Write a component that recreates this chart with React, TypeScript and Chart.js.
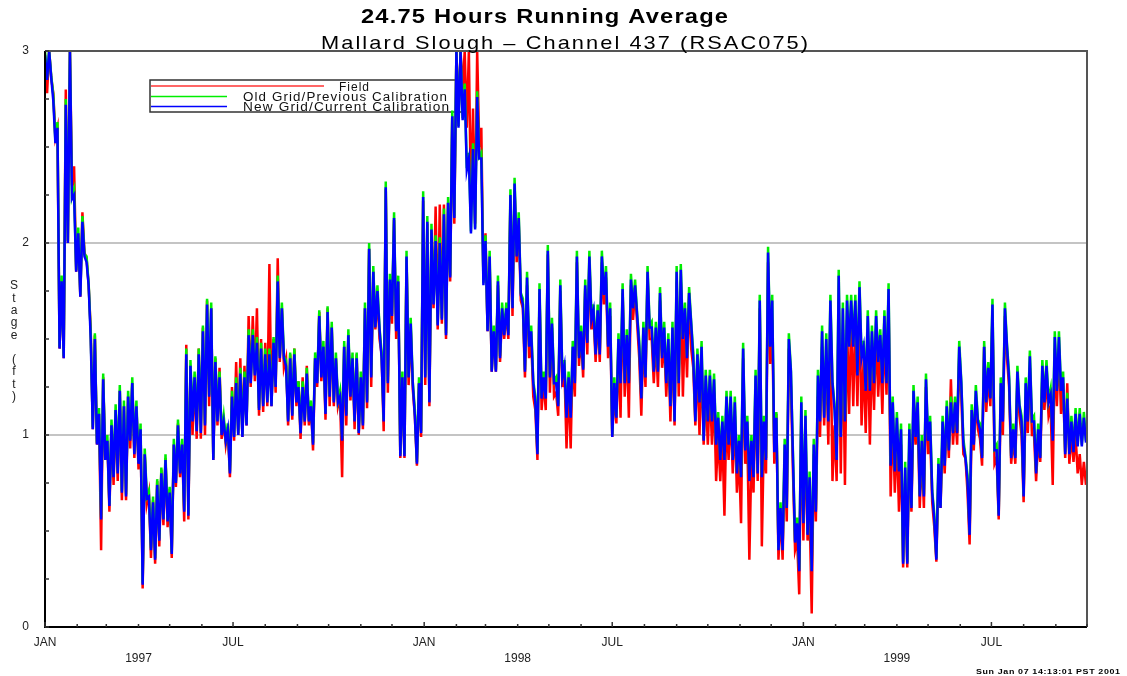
import React, { useEffect, useRef } from "react";
import { Chart, registerables } from "chart.js";

Chart.register(...registerables);

// Samples every 2 days starting 1 Jan 1997 (day 0)
const SAMPLE_STEP_DAYS = 2;
const X_MAX_DAY = 1003; // 1 Oct 1999

const newGrid: number[] = [
  2.98, 2.85, 3.0, 2.86, 2.74, 2.52, 2.6, 1.45, 1.8, 1.4,
  2.72, 2.0, 3.0, 2.23, 2.25, 1.85, 2.05, 1.72, 2.11, 1.93,
  1.9, 1.78, 1.5, 1.03, 1.5, 0.95, 1.11, 0.56, 1.29, 0.87,
  0.97, 0.63, 1.05, 0.78, 1.13, 0.8, 1.23, 0.7, 1.15, 0.68,
  1.2, 0.97, 1.27, 0.9, 1.15, 0.85, 1.03, 0.22, 0.9, 0.67,
  0.68, 0.4, 0.65, 0.35, 0.74, 0.45, 0.8, 0.56, 0.87, 0.55,
  0.7, 0.38, 0.95, 0.75, 1.05, 0.8, 0.95, 0.6, 1.42, 0.58,
  1.36, 1.07, 1.3, 1.02, 1.42, 1.01, 1.54, 1.05, 1.68, 1.2,
  1.66, 0.87, 1.38, 1.07, 1.3, 1.0, 1.07, 0.97, 1.03, 0.8,
  1.2, 0.99, 1.27, 1.0, 1.32, 0.99, 1.3, 1.05, 1.52, 1.27,
  1.52, 1.31, 1.48, 1.13, 1.45, 1.15, 1.42, 1.17, 1.42, 1.15,
  1.48, 1.25, 1.8, 1.4, 1.66, 1.4, 1.36, 1.07, 1.4, 1.1,
  1.42, 1.17, 1.25, 1.01, 1.25, 1.07, 1.32, 1.07, 1.15, 0.95,
  1.4, 1.27, 1.62, 1.3, 1.46, 1.11, 1.64, 1.2, 1.56, 1.17,
  1.4, 1.17, 1.2, 0.97, 1.46, 1.1, 1.52, 1.2, 1.4, 1.07,
  1.4, 1.01, 1.3, 1.05, 1.66, 1.17, 1.97, 1.3, 1.85, 1.56,
  1.75, 1.55, 1.4, 1.07, 2.29, 1.27, 1.81, 1.62, 2.13, 1.54,
  1.8, 0.89, 1.3, 0.89, 1.93, 1.3, 1.58, 1.27, 1.1, 0.85,
  1.27, 1.01, 2.24, 1.3, 2.11, 1.17, 2.07, 1.68, 2.01, 1.57,
  2.0, 1.6, 2.15, 1.52, 2.21, 1.82, 2.66, 2.13, 3.0, 2.6,
  3.0, 2.64, 2.8, 2.38, 2.44, 2.05, 2.49, 2.07, 2.76, 2.44,
  2.44, 1.78, 2.01, 1.54, 1.93, 1.33, 1.54, 1.33, 1.8, 1.4,
  1.66, 1.52, 1.66, 1.52, 2.25, 1.66, 2.31, 1.93, 2.13, 1.73,
  1.68, 1.33, 1.82, 1.46, 1.54, 1.27, 1.17, 0.9, 1.76, 1.19,
  1.3, 1.19, 1.96, 1.3, 1.58, 1.27, 1.27, 1.15, 1.78, 1.3,
  1.36, 1.09, 1.3, 1.09, 1.46, 1.27, 1.93, 1.4, 1.54, 1.34,
  1.78, 1.48, 1.93, 1.6, 1.65, 1.42, 1.65, 1.42, 1.93, 1.73,
  1.85, 1.46, 1.66, 0.99, 1.27, 1.09, 1.5, 1.27, 1.76, 1.27,
  1.52, 1.27, 1.81, 1.66, 1.78, 1.62, 1.46, 1.19, 1.56, 1.3,
  1.85, 1.56, 1.56, 1.33, 1.56, 1.33, 1.74, 1.4, 1.56, 1.27,
  1.5, 1.15, 1.56, 1.07, 1.85, 1.27, 1.86, 1.5, 1.66, 1.4,
  1.74, 1.58, 1.4, 1.07, 1.42, 1.17, 1.46, 0.97, 1.31, 1.07,
  1.31, 1.07, 1.29, 0.95, 1.09, 0.87, 1.07, 0.87, 1.2, 0.95,
  1.2, 0.87, 1.17, 0.8, 0.97, 0.78, 1.45, 0.92, 1.07, 0.76,
  0.97, 0.78, 1.31, 0.8, 1.7, 0.78, 1.07, 0.87, 1.95, 1.46,
  1.7, 0.91, 1.09, 0.4, 0.62, 0.4, 0.95, 0.62, 1.5, 1.33,
  0.87, 0.44, 0.54, 0.29, 1.17, 0.54, 1.1, 0.48, 0.78, 0.29,
  0.95, 0.6, 1.31, 1.07, 1.54, 1.09, 1.5, 1.07, 1.7, 1.27,
  1.13, 0.87, 1.83, 0.99, 1.66, 1.07, 1.7, 1.46, 1.7, 1.46,
  1.7, 1.31, 1.77, 1.4, 1.46, 1.23, 1.62, 1.23, 1.54, 1.27,
  1.62, 1.38, 1.52, 1.27, 1.62, 1.27, 1.76, 0.84, 1.17, 0.81,
  1.09, 0.81, 1.03, 0.33, 0.83, 0.33, 1.03, 0.62, 1.23, 0.99,
  1.17, 0.68, 0.97, 0.68, 1.29, 0.97, 1.07, 0.7, 0.56, 0.35,
  0.85, 0.62, 1.07, 0.84, 1.15, 0.92, 1.17, 1.01, 1.17, 1.01,
  1.46, 1.27, 0.95, 0.88, 0.76, 0.48, 1.13, 0.95, 1.23, 1.07,
  1.03, 0.88, 1.46, 1.17, 1.35, 1.19, 1.68, 0.92, 0.92, 0.58,
  1.27, 1.07, 1.66, 1.46, 1.29, 0.88, 1.03, 0.88, 1.33, 1.15,
  1.07, 0.68, 1.27, 1.07, 1.41, 1.07, 1.07, 0.8, 1.03, 0.88,
  1.36, 1.17, 1.36, 1.17, 1.21, 0.97, 1.51, 1.23, 1.51, 1.23,
  1.3, 0.9, 1.19, 0.9, 1.07, 0.91, 1.11, 0.94, 1.11, 0.94,
  1.09, 0.96,
];

const oldGrid: number[] = [
  3.0, 2.86, 3.0, 2.87, 2.77, 2.53, 2.63, 1.46, 1.83, 1.41,
  2.75, 2.01, 3.0, 2.24, 2.28, 1.86, 2.08, 1.73, 2.14, 1.94,
  1.93, 1.79, 1.53, 1.04, 1.53, 0.96, 1.14, 0.57, 1.32, 0.88,
  1.0, 0.64, 1.08, 0.79, 1.16, 0.81, 1.26, 0.71, 1.18, 0.69,
  1.23, 0.98, 1.3, 0.91, 1.18, 0.86, 1.06, 0.23, 0.93, 0.68,
  0.71, 0.41, 0.68, 0.36, 0.77, 0.46, 0.83, 0.57, 0.9, 0.56,
  0.73, 0.39, 0.98, 0.76, 1.08, 0.81, 0.98, 0.61, 1.45, 0.59,
  1.39, 1.08, 1.33, 1.03, 1.45, 1.02, 1.57, 1.06, 1.71, 1.21,
  1.69, 0.88, 1.41, 1.08, 1.33, 1.01, 1.1, 0.98, 1.06, 0.81,
  1.23, 1.0, 1.3, 1.01, 1.35, 1.0, 1.33, 1.06, 1.55, 1.28,
  1.55, 1.32, 1.51, 1.14, 1.48, 1.16, 1.45, 1.18, 1.45, 1.16,
  1.51, 1.26, 1.83, 1.41, 1.69, 1.41, 1.39, 1.08, 1.43, 1.11,
  1.45, 1.18, 1.28, 1.02, 1.28, 1.08, 1.35, 1.08, 1.18, 0.96,
  1.43, 1.28, 1.65, 1.31, 1.49, 1.12, 1.67, 1.21, 1.59, 1.18,
  1.43, 1.18, 1.23, 0.98, 1.49, 1.11, 1.55, 1.21, 1.43, 1.08,
  1.43, 1.02, 1.33, 1.06, 1.69, 1.18, 2.0, 1.31, 1.88, 1.57,
  1.78, 1.56, 1.43, 1.08, 2.32, 1.28, 1.84, 1.63, 2.16, 1.55,
  1.83, 0.9, 1.33, 0.9, 1.96, 1.31, 1.61, 1.28, 1.13, 0.86,
  1.3, 1.02, 2.27, 1.31, 2.14, 1.18, 2.1, 1.69, 2.04, 1.58,
  2.03, 1.61, 2.18, 1.53, 2.24, 1.83, 2.69, 2.14, 3.0, 2.61,
  3.0, 2.65, 2.83, 2.39, 2.47, 2.06, 2.52, 2.08, 2.79, 2.45,
  2.47, 1.79, 2.04, 1.55, 1.96, 1.34, 1.57, 1.34, 1.83, 1.41,
  1.69, 1.53, 1.69, 1.53, 2.28, 1.67, 2.34, 1.94, 2.16, 1.74,
  1.71, 1.34, 1.85, 1.47, 1.57, 1.28, 1.2, 0.91, 1.79, 1.2,
  1.33, 1.2, 1.99, 1.31, 1.61, 1.28, 1.3, 1.16, 1.81, 1.31,
  1.39, 1.1, 1.33, 1.1, 1.49, 1.28, 1.96, 1.41, 1.57, 1.35,
  1.81, 1.49, 1.96, 1.61, 1.68, 1.43, 1.68, 1.43, 1.96, 1.74,
  1.88, 1.47, 1.69, 1.0, 1.3, 1.1, 1.53, 1.28, 1.79, 1.28,
  1.55, 1.28, 1.84, 1.67, 1.81, 1.63, 1.49, 1.2, 1.59, 1.31,
  1.88, 1.57, 1.59, 1.34, 1.59, 1.34, 1.77, 1.41, 1.59, 1.28,
  1.53, 1.16, 1.59, 1.08, 1.88, 1.28, 1.89, 1.51, 1.69, 1.41,
  1.77, 1.59, 1.43, 1.08, 1.45, 1.18, 1.49, 0.98, 1.34, 1.08,
  1.34, 1.08, 1.32, 0.96, 1.12, 0.88, 1.1, 0.88, 1.23, 0.96,
  1.23, 0.88, 1.2, 0.81, 1.0, 0.79, 1.48, 0.93, 1.1, 0.77,
  1.0, 0.79, 1.34, 0.81, 1.73, 0.79, 1.1, 0.88, 1.98, 1.47,
  1.73, 0.92, 1.12, 0.41, 0.65, 0.41, 0.98, 0.63, 1.53, 1.34,
  0.9, 0.45, 0.57, 0.3, 1.2, 0.55, 1.13, 0.49, 0.81, 0.3,
  0.98, 0.61, 1.34, 1.08, 1.57, 1.1, 1.53, 1.08, 1.73, 1.28,
  1.16, 0.88, 1.86, 1.0, 1.69, 1.08, 1.73, 1.47, 1.73, 1.47,
  1.73, 1.32, 1.8, 1.41, 1.49, 1.24, 1.65, 1.24, 1.57, 1.28,
  1.65, 1.39, 1.55, 1.28, 1.65, 1.28, 1.79, 0.85, 1.2, 0.82,
  1.12, 0.82, 1.06, 0.34, 0.86, 0.34, 1.06, 0.63, 1.26, 1.0,
  1.2, 0.69, 1.0, 0.69, 1.32, 0.98, 1.1, 0.71, 0.59, 0.36,
  0.88, 0.63, 1.1, 0.85, 1.18, 0.93, 1.2, 1.02, 1.2, 1.02,
  1.49, 1.28, 0.98, 0.89, 0.79, 0.49, 1.16, 0.96, 1.26, 1.08,
  1.06, 0.89, 1.49, 1.18, 1.38, 1.2, 1.71, 0.93, 0.95, 0.59,
  1.3, 1.08, 1.69, 1.47, 1.32, 0.89, 1.06, 0.89, 1.36, 1.16,
  1.1, 0.69, 1.3, 1.08, 1.44, 1.08, 1.1, 0.81, 1.06, 0.89,
  1.39, 1.18, 1.39, 1.18, 1.24, 0.98, 1.54, 1.24, 1.54, 1.24,
  1.33, 0.91, 1.22, 0.91, 1.1, 0.92, 1.14, 0.95, 1.14, 0.95,
  1.12, 0.97,
];

const field: number[] = [
  2.95, 2.78, 3.0, 2.86, 2.78, 2.55, 2.6, 1.45, 1.8, 1.4,
  2.8, 2.0, 3.0, 2.3, 2.4, 1.85, 2.05, 1.72, 2.16, 1.95,
  1.92, 1.78, 1.55, 1.03, 1.52, 0.95, 1.11, 0.4, 1.3, 0.87,
  0.97, 0.6, 1.05, 0.74, 1.13, 0.76, 1.23, 0.66, 1.15, 0.66,
  1.2, 0.93, 1.27, 0.88, 1.15, 0.82, 1.03, 0.2, 0.9, 0.64,
  0.7, 0.36, 0.66, 0.33, 0.76, 0.42, 0.82, 0.53, 0.88, 0.52,
  0.72, 0.36, 0.95, 0.73, 1.06, 0.78, 0.95, 0.55, 1.47, 0.56,
  1.36, 1.0, 1.3, 0.98, 1.45, 0.98, 1.56, 1.0, 1.7, 1.15,
  1.66, 0.87, 1.4, 1.05, 1.35, 0.98, 1.07, 0.95, 1.03, 0.78,
  1.25, 0.97, 1.38, 1.0, 1.4, 0.99, 1.36, 1.05, 1.62, 1.25,
  1.62, 1.28, 1.66, 1.1, 1.5, 1.12, 1.48, 1.15, 1.89, 1.15,
  1.5, 1.22, 1.92, 1.38, 1.66, 1.35, 1.4, 1.05, 1.42, 1.08,
  1.45, 1.15, 1.28, 0.98, 1.3, 1.05, 1.36, 1.05, 1.15, 0.92,
  1.4, 1.25, 1.64, 1.28, 1.46, 1.08, 1.66, 1.15, 1.56, 1.15,
  1.4, 1.15, 1.2, 0.78, 1.46, 1.05, 1.52, 1.18, 1.4, 1.03,
  1.42, 1.0, 1.3, 1.03, 1.66, 1.14, 1.97, 1.25, 1.85, 1.55,
  1.72, 1.5, 1.42, 1.02, 2.28, 1.22, 1.8, 1.58, 2.12, 1.5,
  1.8, 0.88, 1.3, 0.88, 1.92, 1.26, 1.56, 1.24, 1.1, 0.84,
  1.27, 0.99, 2.22, 1.26, 2.1, 1.15, 2.06, 1.66, 2.19, 1.55,
  2.2, 1.58, 2.2, 1.5, 2.21, 1.8, 2.66, 2.1, 3.0, 2.65,
  3.0, 2.8, 3.0, 2.6, 3.0, 2.2, 2.7, 2.1, 3.0, 2.5,
  2.6, 1.8, 2.05, 1.54, 1.9, 1.33, 1.52, 1.33, 1.78, 1.38,
  1.64, 1.5, 1.64, 1.5, 2.22, 1.62, 2.28, 1.9, 2.1, 1.7,
  1.66, 1.3, 1.78, 1.4, 1.5, 1.2, 1.13, 0.87, 1.74, 1.13,
  1.28, 1.13, 1.94, 1.22, 1.56, 1.2, 1.22, 1.1, 1.75, 1.25,
  1.34, 0.93, 1.28, 0.93, 1.44, 1.2, 1.9, 1.36, 1.52, 1.3,
  1.76, 1.42, 1.9, 1.55, 1.62, 1.38, 1.62, 1.38, 1.9, 1.68,
  1.82, 1.4, 1.62, 0.99, 1.22, 1.06, 1.45, 1.09, 1.74, 1.2,
  1.48, 1.09, 1.78, 1.6, 1.75, 1.58, 1.4, 1.1, 1.52, 1.25,
  1.82, 1.5, 1.5, 1.27, 1.5, 1.25, 1.7, 1.35, 1.5, 1.2,
  1.45, 1.07, 1.5, 1.05, 1.8, 1.2, 1.8, 1.2, 1.6, 1.3,
  1.74, 1.45, 1.35, 1.05, 1.38, 1.0, 1.4, 0.95, 1.25, 0.95,
  1.25, 0.95, 1.22, 0.76, 1.0, 0.76, 1.0, 0.58, 1.12, 0.87,
  1.12, 0.8, 1.1, 0.7, 0.9, 0.54, 1.4, 0.85, 1.0, 0.35,
  0.9, 0.7, 1.25, 0.76, 1.66, 0.42, 1.0, 0.8, 1.9, 1.37,
  1.6, 0.85, 1.11, 0.35, 0.6, 0.35, 0.88, 0.55, 1.45, 1.25,
  0.8, 0.4, 0.45, 0.17, 1.1, 0.45, 1.0, 0.45, 0.6, 0.07,
  0.9, 0.55, 1.2, 0.99, 1.46, 1.05, 1.4, 0.95, 1.6, 0.76,
  1.05, 0.76, 1.7, 0.8, 1.55, 0.74, 1.6, 1.11, 1.6, 1.15,
  1.6, 1.15, 1.7, 1.05, 1.4, 1.01, 1.5, 0.95, 1.45, 1.13,
  1.55, 1.2, 1.45, 1.11, 1.55, 1.21, 1.7, 0.68, 1.1, 0.7,
  1.0, 0.6, 0.95, 0.31, 0.75, 0.31, 0.95, 0.6, 1.15, 0.95,
  1.1, 0.62, 0.9, 0.62, 1.25, 0.9, 1.0, 0.65, 0.52, 0.34,
  0.8, 0.62, 1.0, 0.8, 1.1, 0.88, 1.29, 0.95, 1.12, 0.95,
  1.4, 1.2, 0.9, 0.88, 0.7, 0.43, 1.05, 0.92, 1.18, 1.03,
  0.98, 0.84, 1.46, 1.12, 1.3, 1.15, 1.62, 0.85, 0.88, 0.56,
  1.2, 1.0, 1.62, 1.4, 1.25, 0.85, 0.98, 0.85, 1.28, 1.1,
  1.0, 0.65, 1.2, 1.01, 1.35, 1.0, 1.0, 0.76, 0.98, 0.86,
  1.3, 1.13, 1.3, 1.1, 1.15, 0.74, 1.45, 1.15, 1.45, 1.11,
  1.27, 0.88, 1.27, 0.85, 1.0, 0.86, 1.0, 0.8, 0.9, 0.74,
  0.86, 0.74,
];

const seriesNames = ["Field", "Old Grid/Previous Calibration", "New Grid/Current Calibration"];
const seriesColors = ["#ff0000", "#00ee00", "#0000ff"];
const yTickValues = [0, 0.25, 0.5, 0.75, 1, 1.25, 1.5, 1.75, 2, 2.25, 2.5, 2.75, 3];
const yLabelLetters = ["S", "t", "a", "g", "e", "", "(", "f", "t", ")"];
const monthNames = ["JAN", "", "", "", "", "", "JUL", "", "", "", "", ""];
const yearLabels = ["1997", "1998", "1999"];
const titleText = "24.75 Hours Running Average";
const subtitleText = "Mallard Slough \u2013 Channel 437 (RSAC075)";
const stampText = "Sun Jan 07 14:13:01 PST 2001";

function toPoints(vals: number[]) {
  return vals.map((v, i) => ({ x: i * SAMPLE_STEP_DAYS, y: v }));
}

type MonthTick = { value: number; label: string | string[]; major: boolean };

function buildMonthTicks(): MonthTick[] {
  const out: MonthTick[] = [];
  const t0 = Date.UTC(1997, 0, 1);
  for (let yi = 0; yi < 3; yi++) {
    for (let m = 0; m < 12; m++) {
      const d = Math.round((Date.UTC(1997 + yi, m, 1) - t0) / 86400000);
      if (d > X_MAX_DAY) continue;
      let label: string | string[] = monthNames[m];
      if (m === 3) label = ["", yearLabels[yi]];
      out.push({ value: d, label, major: m === 0 || m === 6 });
    }
  }
  return out;
}

// draws text so that it spans `width` px: small letter spacing, then horizontal stretch
function fitText(ctx: CanvasRenderingContext2D, text: string, x: number, y: number, width: number, font: string, spacing: number) {
  ctx.save();
  ctx.font = font;
  (ctx as any).letterSpacing = spacing + "px";
  ctx.textAlign = "left";
  const w = ctx.measureText(text).width - spacing;
  ctx.translate(x, y);
  ctx.scale(width / w, 1);
  ctx.fillText(text, 0, 0);
  ctx.restore();
}

export default function App() {
  const ref = useRef<HTMLCanvasElement | null>(null);

  useEffect(() => {
    document.body.style.margin = "0";
    const canvas = ref.current;
    if (!canvas) return;
    const monthTicks = buildMonthTicks();

    const decor = {
      id: "decor",
      beforeDatasetsDraw(chart: any) {
        const ctx: CanvasRenderingContext2D = chart.ctx;
        ctx.save();
        // legend (data is drawn over it, as in the original plot)
        ctx.strokeStyle = "#333333";
        ctx.lineWidth = 1.5;
        ctx.strokeRect(150, 80, 315, 32);
        const legendRows = [
          { y: 86, x2: 324, tx: 339, tw: 30 },
          { y: 96.5, x2: 227, tx: 243, tw: 204 },
          { y: 106.5, x2: 227, tx: 243, tw: 206 },
        ];
        legendRows.forEach((r, i) => {
          ctx.strokeStyle = i === 0 ? "#ff6666" : seriesColors[i];
          ctx.lineWidth = i === 0 ? 2 : 1.5;
          ctx.beginPath();
          ctx.moveTo(151, r.y);
          ctx.lineTo(r.x2, r.y);
          ctx.stroke();
          ctx.fillStyle = "#111111";
          ctx.textBaseline = "alphabetic";
          fitText(ctx, seriesNames[i], r.tx, r.y + 4.5, r.tw, "12px 'Liberation Sans', Arial, sans-serif", 1);
        });
        ctx.restore();
      },
      afterDraw(chart: any) {
        const ctx: CanvasRenderingContext2D = chart.ctx;
        const a = chart.chartArea;
        const xs = chart.scales.x;
        const ys = chart.scales.y;
        ctx.save();
        // frame
        ctx.strokeStyle = "#555555";
        ctx.lineWidth = 2;
        ctx.beginPath();
        ctx.moveTo(a.left, a.top);
        ctx.lineTo(a.right, a.top);
        ctx.lineTo(a.right, a.bottom);
        ctx.stroke();
        ctx.strokeStyle = "#000000";
        ctx.beginPath();
        ctx.moveTo(a.left, a.top);
        ctx.lineTo(a.left, a.bottom);
        ctx.lineTo(a.right, a.bottom);
        ctx.stroke();
        // inward tick marks
        ctx.lineWidth = 1.5;
        ctx.strokeStyle = "#333333";
        monthTicks.forEach((t) => {
          const px = xs.getPixelForValue(t.value);
          ctx.beginPath();
          ctx.moveTo(px, a.bottom);
          ctx.lineTo(px, a.bottom - (t.major ? 5 : 3));
          ctx.stroke();
        });
        yTickValues.forEach((v) => {
          const py = ys.getPixelForValue(v);
          ctx.beginPath();
          ctx.moveTo(a.left, py);
          ctx.lineTo(a.left + 4, py);
          ctx.stroke();
        });
        // titles
        ctx.fillStyle = "#000000";
        ctx.textBaseline = "alphabetic";
        fitText(ctx, titleText, 361, 23, 367, "bold 20px 'Liberation Sans', Arial, sans-serif", 1);
        fitText(ctx, subtitleText, 321, 49, 487, "19px 'Liberation Sans', Arial, sans-serif", 1.8);
        // y axis title as stacked letters
        ctx.font = "12px 'Liberation Sans', Arial, sans-serif";
        ctx.textAlign = "center";
        ctx.textBaseline = "middle";
        ctx.fillStyle = "#222222";
        yLabelLetters.forEach((ch, i) => {
          if (ch) ctx.fillText(ch, 14, 286 + i * 12.3);
        });
        // time stamp
        ctx.fillStyle = "#000000";
        ctx.textBaseline = "alphabetic";
        fitText(ctx, stampText, 976, 674, 144, "bold 7px 'Liberation Sans', Arial, sans-serif", 0.5);
        ctx.restore();
      },
    };

    const chart = new Chart(canvas, {
      type: "line",
      data: {
        datasets: [
          { label: seriesNames[0], data: toPoints(field), borderColor: seriesColors[0], borderWidth: 2.5, pointRadius: 0, order: 3 },
          { label: seriesNames[1], data: toPoints(oldGrid), borderColor: seriesColors[1], borderWidth: 2.5, pointRadius: 0, order: 2 },
          { label: seriesNames[2], data: toPoints(newGrid), borderColor: seriesColors[2], borderWidth: 2.5, pointRadius: 0, order: 1 },
        ],
      },
      options: {
        animation: false,
        responsive: false,
        events: [],
        layout: { padding: { top: 51, right: 40, left: 0, bottom: 0 } },
        plugins: { legend: { display: false }, title: { display: false }, tooltip: { enabled: false } },
        elements: { line: { tension: 0 } },
        scales: {
          x: {
            type: "linear",
            min: 0,
            max: X_MAX_DAY,
            afterBuildTicks: (s: any) => {
              s.ticks = monthTicks.map((t) => ({ value: t.value }));
            },
            afterFit: (s: any) => {
              s.height = 49;
            },
            ticks: {
              autoSkip: false,
              maxRotation: 0,
              padding: 8,
              color: "#222222",
              font: { family: "'Liberation Sans', Arial, sans-serif", size: 12, lineHeight: 1.3 },
              callback: (_v: any, i: number) => (monthTicks[i] ? monthTicks[i].label : ""),
            },
            grid: { display: false, drawTicks: false },
            border: { display: false },
          },
          y: {
            min: 0,
            max: 3,
            afterBuildTicks: (s: any) => {
              s.ticks = yTickValues.map((v) => ({ value: v }));
            },
            afterFit: (s: any) => {
              s.width = 45;
            },
            ticks: {
              padding: 16,
              color: "#222222",
              font: { family: "'Liberation Sans', Arial, sans-serif", size: 12 },
              callback: (v: any) => (Number.isInteger(v) ? String(v) : ""),
            },
            grid: {
              drawTicks: false,
              lineWidth: 2,
              color: (c: any) => (c.tick && (c.tick.value === 1 || c.tick.value === 2) ? "#c4c4c4" : "rgba(0,0,0,0)"),
            },
            border: { display: false },
          },
        },
      },
      plugins: [decor],
    });
    return () => chart.destroy();
  }, []);

  return <canvas ref={ref} width={1127} height={676} style={{ display: "block" }} />;
}
